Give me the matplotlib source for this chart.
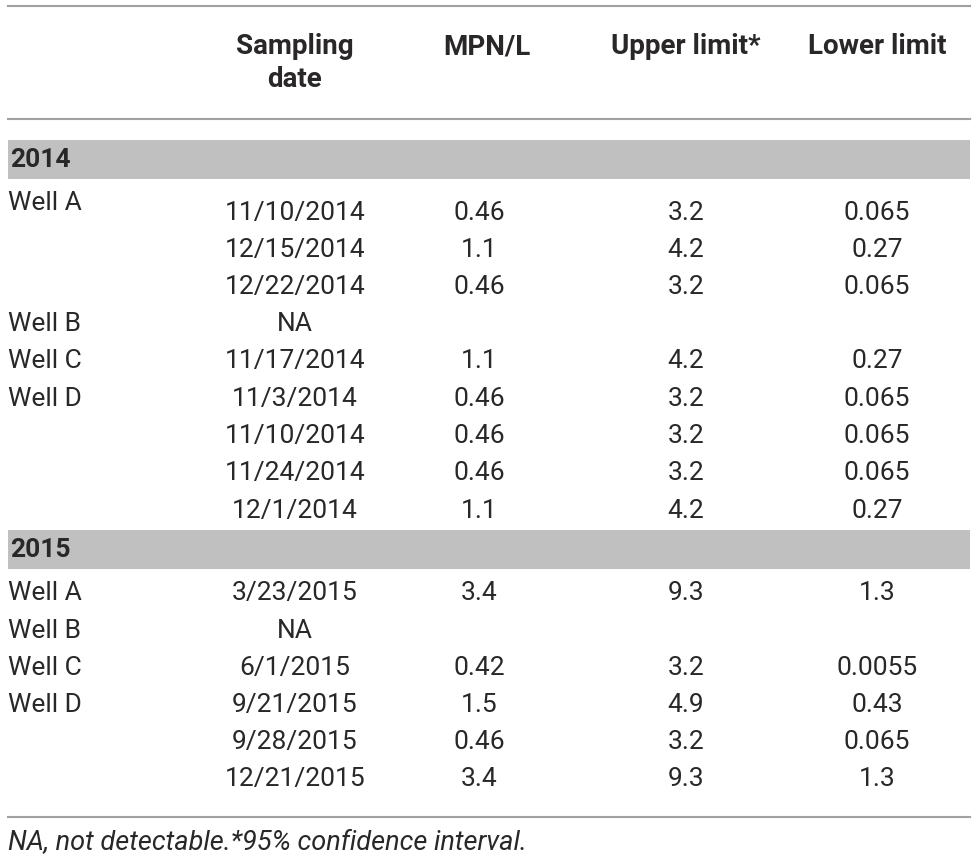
import matplotlib.pyplot as plt

plt.rcParams['font.family'] = ['Roboto', 'DejaVu Sans']

headers = ['Sampling\ndate', 'MPN/L', 'Upper limit*', 'Lower limit']
years = ['2014', '2015']

wells_2014 = ['Well A', '', '', 'Well B', 'Well C', 'Well D', '', '', '']
dates_2014 = ['11/10/2014', '12/15/2014', '12/22/2014', 'NA', '11/17/2014',
              '11/3/2014', '11/10/2014', '11/24/2014', '12/1/2014']
mpn_2014 = ['0.46', '1.1', '0.46', '', '1.1', '0.46', '0.46', '0.46', '1.1']
upper_2014 = ['3.2', '4.2', '3.2', '', '4.2', '3.2', '3.2', '3.2', '4.2']
lower_2014 = ['0.065', '0.27', '0.065', '', '0.27', '0.065', '0.065', '0.065', '0.27']

wells_2015 = ['Well A', 'Well B', 'Well C', 'Well D', '', '']
dates_2015 = ['3/23/2015', 'NA', '6/1/2015', '9/21/2015', '9/28/2015', '12/21/2015']
mpn_2015 = ['3.4', '', '0.42', '1.5', '0.46', '3.4']
upper_2015 = ['9.3', '', '3.2', '4.9', '3.2', '9.3']
lower_2015 = ['1.3', '', '0.0055', '0.43', '0.065', '1.3']

footnote = 'NA, not detectable.*95% confidence interval.'

W, H = 974, 865
fig = plt.figure(figsize=(W / 100, H / 100), dpi=100)
ax = fig.add_axes([0, 0, 1, 1])
ax.set_xlim(0, W)
ax.set_ylim(H, 0)
ax.axis('off')

line_col = '#a0a0a0'
band_col = '#c0c0c0'
txt = '#2a2728'
left, right = 8, 970
col_x = [295, 479, 686, 877]
head_x = [295, 487, 686, 877]
fs = 19

ax.plot([left, right], [6, 6], color=line_col, lw=1.5)
ax.plot([left, right], [119, 119], color=line_col, lw=1.5)
ax.plot([left, right], [817, 817], color=line_col, lw=1.5)

for x, h in zip(head_x, headers):
    ax.text(x, 33, h, ha='center', va='top', fontsize=20, fontweight='bold',
            color=txt, linespacing=1.3)

blocks = [
    (140, [213, 250, 287, 324, 361, 399, 436, 473, 511],
     wells_2014, dates_2014, mpn_2014, upper_2014, lower_2014),
    (530, [593, 631, 668, 705, 742, 779],
     wells_2015, dates_2015, mpn_2015, upper_2015, lower_2015),
]

for (band_top, rows, wells, dates, mpn, upper, lower), yr in zip(blocks, years):
    ax.add_patch(plt.Rectangle((left, band_top), right - left, 39,
                               color=band_col, lw=0))
    ax.text(left + 2, band_top + 20, yr, ha='left', va='center', fontsize=fs,
            fontweight='bold', color=txt)
    for i, y in enumerate(rows):
        wy = y - 10 if (i == 0 and yr == '2014') else y
        ax.text(left, wy, wells[i], ha='left', va='center', fontsize=fs,
                color=txt)
        for x, val in zip(col_x, [dates[i], mpn[i], upper[i], lower[i]]):
            ax.text(x, y, val, ha='center', va='center', fontsize=fs,
                    color=txt)

ax.text(left, 843, footnote, ha='left', va='center', fontsize=19.5,
        fontstyle='italic', color=txt)

fig.savefig('out.png', dpi=100)
